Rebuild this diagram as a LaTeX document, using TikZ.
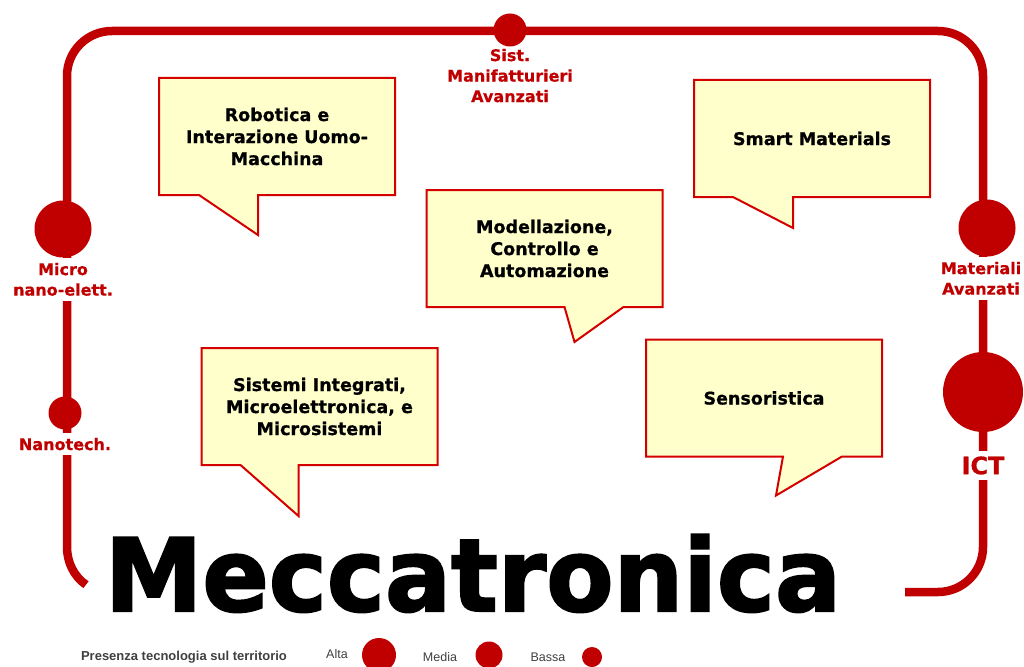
\documentclass[tikz,border=0pt]{standalone}
\usepackage{fontspec}
\setmainfont{Liberation Sans}
\newfontfamily\heavy{DejaVu Sans Bold}[FakeBold=0.7]
\newfontfamily\blackface{DejaVu Sans Bold}[FakeBold=2]
\usetikzlibrary{positioning,calc,backgrounds}
\definecolor{mecred}{HTML}{C00000}
\definecolor{balloonfill}{HTML}{FFFFCC}
\definecolor{balloonline}{HTML}{D40000}
\definecolor{legendgray}{HTML}{404040}

\begin{document}
\begin{tikzpicture}[
            x=1pt,y=-1pt,
            track/.style={
              draw=mecred,
              line width=8.5pt
            },
            hub/.style={
              circle,
              fill=mecred,
              inner sep=0pt,
              minimum size=#1
            },
            area/.style={
              fill=white,
              inner sep=5pt,
              align=center,
              text=mecred,
              font=\heavy\fontsize{16}{20.5}\selectfont
            },
            bubble/.style={
              minimum width=236pt,
              minimum height=117pt,
              inner sep=0pt,
              outer sep=0pt,
              align=center,
              font=\heavy\fontsize{17.5}{22}\selectfont
            },
            balloon/.style={
              draw=balloonline,
              fill=balloonfill,
              line width=2pt,
              line join=miter
            },
            legend/.style={
              text=legendgray,
              inner sep=0pt,
              font=\fontsize{12.5}{14}\selectfont
            }
            ]
            \useasboundingbox (0,0) rectangle (1024,666);

            \coordinate (trackL) at (86,584.7);
            \coordinate (trackR) at (905,592);
            \draw[track] (trackL) .. controls (73.6,576.2) and (67,561.8) .. (67,547)
              [rounded corners=45pt] -- (67,31) -- (983,31) -- (983,592) -- (trackR);

            \node[hub=33pt] (manif) at (510,30) {};
            \node[hub=57pt] (micro) at (63,229) {};
            \node[hub=33pt] (nano) at (65,413) {};
            \node[hub=57pt] (mater) at (987,228) {};
            \node[hub=80pt] (ict) at (983,392) {};

            \node[area,inner sep=2pt,below=0pt of manif] 
              (manifl) {Sist.\\Manifatturieri\\Avanzati};
            \node[area,below=0pt of micro] 
              (microl) {Micro\\nano-elett.};
            \node[area,below=3pt of nano] 
              (nanol) {Nanotech.};
            \node[area,inner xsep=1pt,below=0pt of mater,xshift=-6pt] 
              (materl) {Materiali\\Avanzati};
            \node[area,below=19pt of ict,font=\heavy\fontsize{24}{28}\selectfont] 
              (ictl) {ICT};

            \node[bubble] at (277,136.5) 
              (rob) {Robotica e\\Interazione Uomo-\\Macchina};
            \node[bubble] at (812,138.5) 
              (smart) {Smart Materials};
            \node[bubble] at (544.5,248.5) 
              (model) {Modellazione,\\Controllo e\\Automazione};
            \node[bubble] at (319.5,406.5) 
              (sist) {Sistemi Integrati,\\Microelettronica, e\\Microsistemi};
            \node[bubble] at (764,398) 
              (sens) {Sensoristica};

            \begin{scope}[on background layer]
            \draw[balloon] (rob.north west) -- (rob.north east) -- (rob.south east)
              -- ($(rob.south west)+(99,0)$) -- ($(rob.south west)+(99,40)$)
              -- ($(rob.south west)+(40,0)$) -- (rob.south west) -- cycle;
            \draw[balloon] (smart.north west) -- (smart.north east) -- (smart.south east)
              -- ($(smart.south west)+(99,0)$) -- ($(smart.south west)+(99,31)$)
              -- ($(smart.south west)+(39,0)$) -- (smart.south west) -- cycle;
            \draw[balloon] (model.north west) -- (model.north east) -- (model.south east)
              -- ($(model.south west)+(197,0)$) -- ($(model.south west)+(148,35)$)
              -- ($(model.south west)+(138,0)$) -- (model.south west) -- cycle;
            \draw[balloon] (sist.north west) -- (sist.north east) -- (sist.south east)
              -- ($(sist.south west)+(97,0)$) -- ($(sist.south west)+(97,51)$)
              -- ($(sist.south west)+(39,0)$) -- (sist.south west) -- cycle;
            \draw[balloon] (sens.north west) -- (sens.north east) -- (sens.south east)
              -- ($(sens.south west)+(196,0)$) -- ($(sens.south west)+(130,39)$)
              -- ($(sens.south west)+(137,0)$) -- (sens.south west) -- cycle;
            \end{scope}

            \node[inner sep=0pt,anchor=base,xscale=0.97,
              font=\blackface\fontsize{101}{110}\selectfont] at (473,611)
              (title) {Meccatronica};

            \node[legend,font=\bfseries\fontsize{13}{14}\selectfont] at (184,657) 
              (presence) {Presenza tecnologia sul territorio};
            \node[legend] at (337,654) 
              (alta) {Alta};
            \node[hub=34pt] at (379,655) 
              (altadot) {};
            \node[legend] at (440,657) 
              (media) {Media};
            \node[hub=27pt] at (489,655) 
              (mediadot) {};
            \node[legend] at (548,657) 
              (bassa) {Bassa};
            \node[hub=20pt] at (592,657) 
              (bassadot) {};
            \end{tikzpicture}
\end{document}
